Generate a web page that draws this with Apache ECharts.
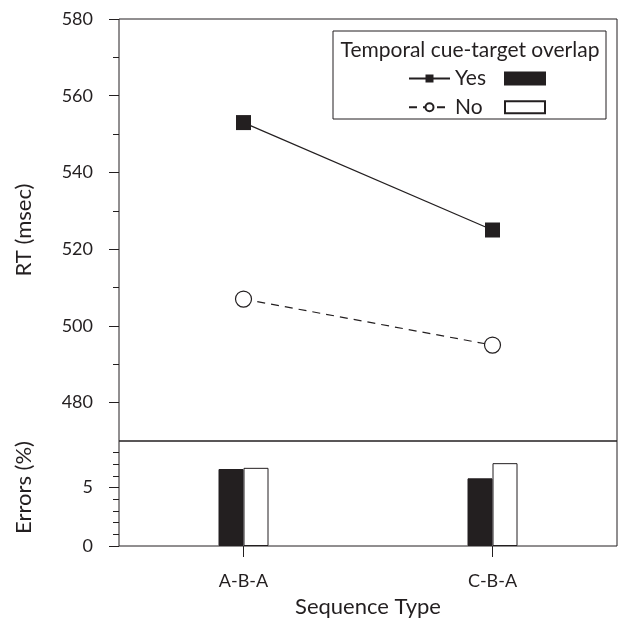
<!DOCTYPE html>
<html>
<head>
<meta charset="utf-8">
<script src="https://cdn.jsdelivr.net/npm/echarts@6/dist/echarts.min.js"></script>
<style>
  html, body { margin: 0; padding: 0; background: #fff; }
  #chart { width: 624px; height: 619px; }
</style>
</head>
<body>
<div id="chart"></div>
<script>
var categories = ['A-B-A', 'C-B-A'];
var rtYes = [553, 525];
var rtNo = [507, 495];
var errYes = [6.6, 5.8];
var errNo = [6.7, 7.1];
var rtTicks = [480, 500, 520, 540, 560, 580];
var rtMinorTicks = [490, 510, 530, 550, 570];
var errTicks = [0, 5];
var errMinorTicks = [1, 2, 3, 4, 6, 7, 8];

var ink = '#231f20';
var font = 'Lato';

var chart = echarts.init(document.getElementById('chart'));

// y axis: major ticks with labels, and an overlaid axis just for the short ticks
function majorAxis(grid, min, max, ticks, name, namePad) {
	return {
		type: 'value', gridIndex: grid, min: min, max: max, position: 'left',
		axisLine: { show: false },
		splitLine: { show: false },
		axisTick: { show: true, length: 10, customValues: ticks, lineStyle: { color: ink, width: 1 } },
		axisLabel: { customValues: ticks, margin: 26, color: ink, fontFamily: font, fontSize: 18 },
		name: name, nameLocation: 'middle', nameGap: 84,
		nameTextStyle: { color: ink, fontFamily: font, fontSize: 22, padding: namePad || 0 }
	};
}
function minorAxis(grid, min, max, ticks) {
	return {
		type: 'value', gridIndex: grid, min: min, max: max, position: 'left', offset: 0,
		axisLine: { show: false },
		splitLine: { show: false },
		axisTick: { show: true, length: 6, customValues: ticks, lineStyle: { color: ink, width: 1 } },
		axisLabel: { show: false }
	};
}

var option = {
	animation: false,
	backgroundColor: '#fff',
	grid: [
		{ left: 119, right: 7, top: 19, height: 422, show: true, borderColor: ink, borderWidth: 1 },
		{ left: 119, right: 7, top: 441, height: 106, show: true, borderColor: ink, borderWidth: 1 }
	],
	xAxis: [
		{
			type: 'category', gridIndex: 0, data: categories,
			axisLine: { show: false }, axisTick: { show: false }, axisLabel: { show: false }
		},
		{
			type: 'category', gridIndex: 1, data: categories,
			axisLine: { show: false },
			axisTick: { show: true, alignWithLabel: true, length: 10, lineStyle: { color: ink } },
			axisLabel: { color: ink, fontFamily: font, fontSize: 18, margin: 26 },
			name: 'Sequence Type', nameLocation: 'middle', nameGap: 50,
			nameTextStyle: { color: ink, fontFamily: font, fontSize: 22 }
		},
		{
			type: 'category', gridIndex: 1, data: categories, position: 'top',
			axisLine: { show: false },
			axisTick: { show: true, inside: true, alignWithLabel: true, length: 11, lineStyle: { color: ink } },
			axisLabel: { show: false }
		}
	],
	yAxis: [
		majorAxis(0, 470, 580, rtTicks, 'RT (msec)'),
		minorAxis(0, 470, 580, rtMinorTicks),
		majorAxis(1, 0, 9, errTicks, 'Errors (%)', [0, 0, 0, 12]),
		minorAxis(1, 0, 9, errMinorTicks)
	],
	legend: [
		{
			data: ['Yes', 'No'], orient: 'vertical', left: 403, top: 63,
			itemWidth: 41, itemHeight: 10, itemGap: 7.7, itemTextGap: 11, selectedMode: false,
			textStyle: { color: ink, fontFamily: font, fontSize: 21, lineHeight: 21 }
		},
		{
			data: ['Yes errors', 'No errors'], orient: 'vertical', left: 499, top: 63,
			itemWidth: 40, itemHeight: 12, itemGap: 7.7, selectedMode: false, icon: 'rect',
			formatter: function () { return ' '; },
			textStyle: { fontFamily: font, fontSize: 21, lineHeight: 21 }
		}
	],
	graphic: [
		{
			type: 'rect', silent: true, z: -1,
			shape: { x: 333, y: 31, width: 273, height: 88 },
			style: { fill: '#fff', stroke: ink, lineWidth: 1 }
		},
		{
			type: 'text', silent: true,
			style: {
				x: 470, y: 50, text: 'Temporal cue-target overlap', fill: ink,
				font: '21px Lato', align: 'center', verticalAlign: 'middle'
			}
		}
	],
	series: [
		{
			name: 'Yes', type: 'line', xAxisIndex: 0, yAxisIndex: 0, data: rtYes,
			symbol: 'rect', symbolSize: 15,
			lineStyle: { color: ink, width: 1.2 },
			itemStyle: { color: ink }
		},
		{
			name: 'No', type: 'line', xAxisIndex: 0, yAxisIndex: 0, data: rtNo,
			symbol: 'circle', symbolSize: 16,
			lineStyle: { color: ink, width: 1.2, type: [8, 6] },
			itemStyle: { color: '#fff', borderColor: ink, borderWidth: 1.2 }
		},
		{
			name: 'Yes errors', type: 'bar', xAxisIndex: 1, yAxisIndex: 2, data: errYes,
			barWidth: 25, barGap: '0%',
			itemStyle: { color: ink, borderColor: ink, borderWidth: 1 }
		},
		{
			name: 'No errors', type: 'bar', xAxisIndex: 1, yAxisIndex: 2, data: errNo,
			barWidth: 25, barGap: '0%',
			itemStyle: { color: '#fff', borderColor: ink, borderWidth: 1 }
		}
	]
};

chart.setOption(option);
</script>
</body>
</html>
